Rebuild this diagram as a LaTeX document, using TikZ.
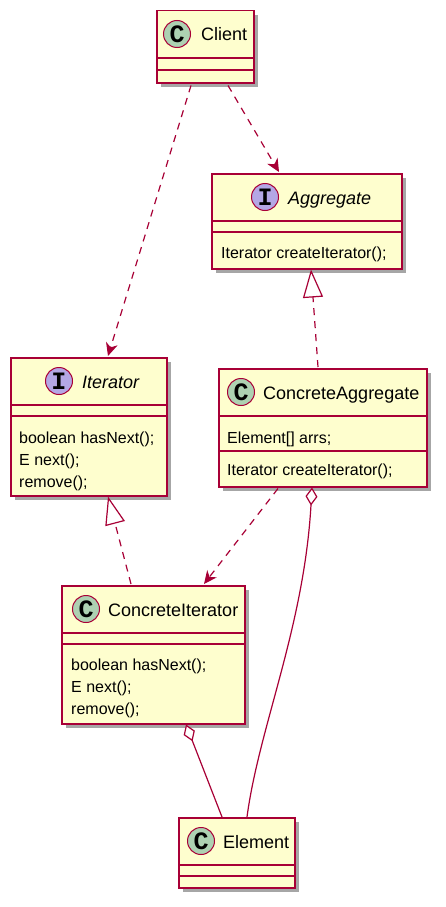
\documentclass[tikz,border=0pt]{standalone}
\usepackage{fontspec}
\setmainfont{Liberation Sans}
\newfontfamily\circfont{Liberation Mono}
\usetikzlibrary{shadows,arrows.meta,calc}
\definecolor{umlfill}{HTML}{FEFECE}
\definecolor{umlline}{HTML}{A80036}
\definecolor{cgreen}{HTML}{ADD1B2}
\definecolor{ipurple}{HTML}{B4A7E5}
\tikzset{
 umlbox/.style={draw=umlline, fill=umlfill, line width=1.5pt, rectangle, inner sep=0pt, anchor=north west,
   drop shadow={shadow xshift=4pt, shadow yshift=-4pt, opacity=0.35, fill=black}},
 divider/.style={draw=umlline, line width=1.5pt},
 clsname/.style={anchor=base west, inner sep=0pt, font=\fontsize{18}{20}\selectfont},
 member/.style={anchor=base west, inner sep=0pt, font=\fontsize{16}{20}\selectfont},
 circC/.style={circle, draw=umlline, line width=1pt, fill=cgreen, minimum size=27pt, inner sep=0pt,
   font=\circfont\bfseries\fontsize{25}{25}\selectfont},
 circI/.style={circC, fill=ipurple},
 dep/.style={draw=umlline, line width=1.2pt, dash pattern=on 7pt off 6pt,
   -{Stealth[length=13pt,width=12pt,inset=4pt]}},
 real/.style={draw=umlline, line width=1.2pt, dash pattern=on 7pt off 6pt,
   -{Triangle[open,length=28pt,width=20pt,fill=white]}},
 agg/.style={draw=umlline, line width=1.2pt, {Diamond[open,length=18pt,width=12pt,fill=white]}-},
}
\begin{document}
\begin{tikzpicture}[x=1pt,y=-1pt]
\fill[white] (0,0) rectangle (445,907);
\useasboundingbox (0,0) rectangle (445,907);

% boxes
\node[umlbox, minimum width=97pt, minimum height=72pt] (client) at (156,10) {};
\node[umlbox, minimum width=190pt, minimum height=95pt] (aggr) at (211,173) {};
\node[umlbox, minimum width=156pt, minimum height=138pt] (iter) at (10,357) {};
\node[umlbox, minimum width=208pt, minimum height=118pt] (cagg) at (218,368) {};
\node[umlbox, minimum width=183pt, minimum height=138pt] (citer) at (61,585) {};
\node[umlbox, minimum width=116pt, minimum height=70pt] (elem) at (178,817) {};

% dividers
\draw[divider] ($(client.north west)+(0,48)$) -- ($(client.north east)+(0,48)$);
\draw[divider] ($(client.north west)+(0,60)$) -- ($(client.north east)+(0,60)$);
\draw[divider] ($(aggr.north west)+(0,48)$) -- ($(aggr.north east)+(0,48)$);
\draw[divider] ($(aggr.north west)+(0,59)$) -- ($(aggr.north east)+(0,59)$);
\draw[divider] ($(iter.north west)+(0,48)$) -- ($(iter.north east)+(0,48)$);
\draw[divider] ($(iter.north west)+(0,59)$) -- ($(iter.north east)+(0,59)$);
\draw[divider] ($(cagg.north west)+(0,48)$) -- ($(cagg.north east)+(0,48)$);
\draw[divider] ($(cagg.north west)+(0,83)$) -- ($(cagg.north east)+(0,83)$);
\draw[divider] ($(citer.north west)+(0,48)$) -- ($(citer.north east)+(0,48)$);
\draw[divider] ($(citer.north west)+(0,59)$) -- ($(citer.north east)+(0,59)$);
\draw[divider] ($(elem.north west)+(0,48)$) -- ($(elem.north east)+(0,48)$);
\draw[divider] ($(elem.north west)+(0,59)$) -- ($(elem.north east)+(0,59)$);

% headers
\node[circC] (cclient) at (177,34) {C};
\node[clsname] (nclient) at (201,41) {Client};
\node[circI] (caggr) at (265,197) {I};
\node[clsname] (naggr) at (288,204) {\itshape Aggregate};
\node[circI] (citerc) at (59,381) {I};
\node[clsname] (niter) at (82,388) {\itshape Iterator};
\node[circC] (ccagg) at (241,392) {C};
\node[clsname] (ncagg) at (263,399) {ConcreteAggregate};
\node[circC] (cciter) at (86,609) {C};
\node[clsname] (nciter) at (108,616) {ConcreteIterator};
\node[circC] (celem) at (201,841) {C};
\node[clsname] (nelem) at (223,848) {Element};

% members
\node[member] (m1) at (221,258) {Iterator createIterator();};
\node[member] (m2) at (19,443) {boolean hasNext();};
\node[member] (m3) at (19,465) {E next();};
\node[member] (m4) at (19,487) {remove();};
\node[member] (m5) at (227,443) {Element[] arrs;};
\node[member] (m6) at (227,475) {Iterator createIterator();};
\node[member] (m7) at (71,670) {boolean hasNext();};
\node[member] (m8) at (71,692) {E next();};
\node[member] (m9) at (71,714) {remove();};

% connectors
\draw[dep] ($(client.south west)+(35,2)$) -- ($(iter.north west)+(98,-1)$);
\draw[dep] ($(client.south west)+(72,2)$) -- ($(aggr.north west)+(68,-1)$);
\draw[real] ($(cagg.north west)+(100,-1)$) -- ($(aggr.south west)+(100,0)$);
\draw[real] ($(citer.north west)+(70,-1)$) -- ($(iter.south west)+(98,0)$);
\draw[dep] ($(cagg.south west)+(60,1)$) -- ($(citer.north west)+(143,-1)$);
\draw[agg] ($(cagg.south west)+(94,0)$) .. controls +(-8,140) and +(12,-90) .. ($(elem.north west)+(69,0)$);
\draw[agg] ($(citer.south west)+(125,0)$) -- ($(elem.north west)+(44,0)$);
\end{tikzpicture}
\end{document}
